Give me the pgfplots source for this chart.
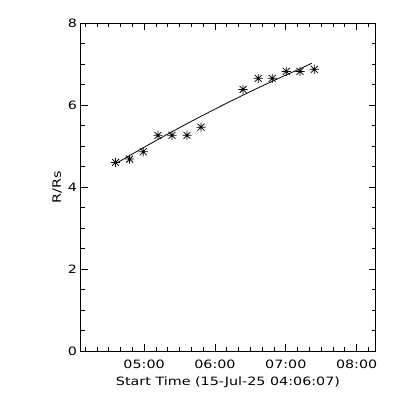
\documentclass[border=0pt]{standalone}
\usepackage{fontspec}
\setmainfont{DejaVu Sans}
\newfontfamily\hfont{DejaVu Sans}[FakeStretch=1.25]
\usepackage{pgfplots}
\pgfplotsset{compat=1.18}
\pgfdeclareplotmark{idlstar}{%
  \pgfpathmoveto{\pgfqpoint{-\pgfplotmarksize}{0pt}}%
  \pgfpathlineto{\pgfqpoint{\pgfplotmarksize}{0pt}}%
  \pgfpathmoveto{\pgfqpoint{0pt}{-\pgfplotmarksize}}%
  \pgfpathlineto{\pgfqpoint{0pt}{\pgfplotmarksize}}%
  \pgfpathmoveto{\pgfqpoint{-0.75\pgfplotmarksize}{-0.75\pgfplotmarksize}}%
  \pgfpathlineto{\pgfqpoint{0.75\pgfplotmarksize}{0.75\pgfplotmarksize}}%
  \pgfpathmoveto{\pgfqpoint{-0.75\pgfplotmarksize}{0.75\pgfplotmarksize}}%
  \pgfpathlineto{\pgfqpoint{0.75\pgfplotmarksize}{-0.75\pgfplotmarksize}}%
  \pgfusepathqstroke}
\begin{document}
\begin{tikzpicture}
\useasboundingbox[fill=white] (0,0) rectangle (400bp,400bp);
\begin{axis}[
  at={(80.5bp,49bp)}, anchor=south west,
  scale only axis, width=295bp, height=328bp,
  xmin=4.1019, xmax=8.266, ymin=0, ymax=8,
  xtick={5,6,7,8},
  xticklabels={05:00,06:00,07:00,08:00},
  minor xtick={4.1667,4.3333,4.5,4.6667,4.8333,5.1667,5.3333,5.5,5.6667,5.8333,6.1667,6.3333,6.5,6.6667,6.8333,7.1667,7.3333,7.5,7.6667,7.8333,8.1667},
  ytick={0,2,4,6,8},
  minor ytick={0.5,1,1.5,2.5,3,3.5,4.5,5,5.5,6.5,7,7.5},
  tick align=inside,
  major tick length=7bp, minor tick length=4bp,
  every tick/.style={black, line width=0.7pt},
  axis line style={line width=0.8pt},
  tick label style={font=\hfont\fontsize{11.5}{13}\selectfont},
  label style={font=\hfont\fontsize{11.5}{13}\selectfont},
  /pgf/number format/assume math mode=true,
  xlabel={Start Time (15-Jul-25 04:06:07)},
  ylabel={R/Rs},
  xticklabel style={yshift=-5bp},
  xlabel style={yshift=-2bp},
  ylabel style={yshift=-1bp},
  clip=false,
]
\addplot[only marks, mark=idlstar, mark size=4.6bp, mark options={line width=0.75pt}] coordinates {
(4.597,4.60) (4.795,4.68) (4.989,4.86) (5.195,5.26) (5.393,5.26) (5.605,5.26) (5.803,5.46)
(6.397,6.38) (6.610,6.65) (6.808,6.65) (7.006,6.82) (7.199,6.82) (7.402,6.87)
};
\addplot[black, line width=0.8pt] coordinates {
(4.59,4.56) (4.80,4.772) (5.00,4.97) (5.20,5.164) (5.40,5.354) (5.60,5.54) (5.80,5.722)
(6.00,5.90) (6.20,6.074) (6.40,6.244) (6.60,6.41) (6.80,6.572) (7.00,6.73) (7.20,6.884) (7.37,7.02)
};
\end{axis}
\end{tikzpicture}
\end{document}
